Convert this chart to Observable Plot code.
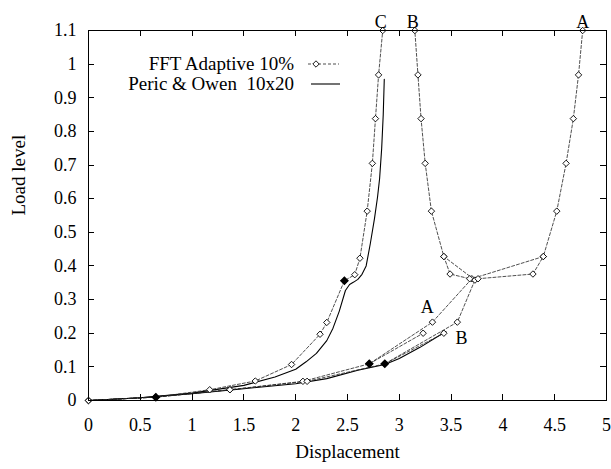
<!DOCTYPE html>
<html>
<head>
<meta charset="utf-8">
<script src="https://cdn.jsdelivr.net/npm/d3@7"></script>
<script src="https://cdn.jsdelivr.net/npm/@observablehq/plot@0.6"></script>
<style>
  html, body { margin: 0; padding: 0; background: #fff; }
  #chart { width: 611px; height: 469px; }
</style>
</head>
<body>
<div id="chart"></div>
<script>
// ---- Tick values ----
const xTickValues = [0, 0.5, 1, 1.5, 2, 2.5, 3, 3.5, 4, 4.5, 5];
const xTickLabels = ["0", "0.5", "1", "1.5", "2", "2.5", "3", "3.5", "4", "4.5", "5"];
const yTickValues = [0, 0.1, 0.2, 0.3, 0.4, 0.5, 0.6, 0.7, 0.8, 0.9, 1, 1.1];
const yTickLabels = ["0", "0.1", "0.2", "0.3", "0.4", "0.5", "0.6", "0.7", "0.8", "0.9", "1", "1.1"];

// ---- FFT Adaptive 10% : branch C ----
const fftCX = [0, 0.65, 1.17, 1.61, 1.96, 2.235, 2.30, 2.47, 2.57, 2.62, 2.69, 2.74, 2.77, 2.80, 2.84];
const fftCY = [0, 0.01, 0.032, 0.058, 0.107, 0.197, 0.232, 0.356, 0.374, 0.423, 0.563, 0.705, 0.838, 0.968, 1.1];
// ---- branch A ----
const fftAX = [0, 0.65, 1.365, 2.07, 2.71, 3.32, 3.70, 4.39, 4.52, 4.61, 4.68, 4.73, 4.77];
const fftAY = [0, 0.01, 0.032, 0.057, 0.109, 0.233, 0.362, 0.428, 0.563, 0.705, 0.838, 0.968, 1.1];
// ---- branch B ----
const fftBX = [0, 0.65, 1.365, 2.11, 2.86, 3.56, 3.73, 3.43, 3.31, 3.25, 3.21, 3.18, 3.15];
const fftBY = [0, 0.01, 0.032, 0.057, 0.109, 0.233, 0.358, 0.428, 0.563, 0.705, 0.838, 0.968, 1.1];
// ---- short side branches ----
const fftA2X = [2.71, 3.23];
const fftA2Y = [0.109, 0.2];
const fftB2X = [2.86, 3.43];
const fftB2Y = [0.109, 0.2];
const fftLinkBX = [3.43, 3.49, 3.68];
const fftLinkBY = [0.428, 0.376, 0.362];
const fftLinkAX = [3.76, 4.29, 4.39];
const fftLinkAY = [0.362, 0.376, 0.428];
// coincident (overlapping, drawn solid) markers
const fftDenseX = [0.65, 2.47, 2.71, 2.86];
const fftDenseY = [0.01, 0.356, 0.109, 0.109];

// ---- Peric & Owen 10x20 ----
const po1X = [0, 0.5, 1.0, 1.5, 1.8, 2.0, 2.1, 2.2, 2.3, 2.36, 2.42, 2.48, 2.52, 2.56, 2.6, 2.64, 2.68, 2.72, 2.76, 2.79, 2.81, 2.83, 2.845, 2.855];
const po1Y = [0, 0.008, 0.022, 0.045, 0.07, 0.093, 0.115, 0.14, 0.178, 0.215, 0.265, 0.327, 0.345, 0.352, 0.36, 0.375, 0.4, 0.466, 0.54, 0.605, 0.66, 0.75, 0.85, 0.955];
const po2X = [0, 0.5, 1.0, 1.5, 2.0, 2.3, 2.6, 2.86, 3.0, 3.2, 3.45];
const po2Y = [0, 0.008, 0.02, 0.035, 0.05, 0.065, 0.09, 0.107, 0.125, 0.158, 0.205];

// ---- branch labels ----
const topLabels = ["C", "B", "A"];
const topLabelX = [2.82, 3.13, 4.77];
const innerLabels = ["A", "B"];
const innerLabelX = [3.27, 3.60];
const innerLabelY = [0.278, 0.185];

const legendNames = ["FFT Adaptive 10%", "Peric & Owen  10x20"];

// ---- build tables ----
const rows = (xs, ys, id) => xs.map((x, i) => ({x, y: ys[i], id}));
const fftRows = [
  ...rows(fftCX, fftCY, "C"),
  ...rows(fftAX, fftAY, "A"),
  ...rows(fftBX, fftBY, "B"),
  ...rows(fftA2X, fftA2Y, "A2"),
  ...rows(fftB2X, fftB2Y, "B2"),
  ...rows(fftLinkBX, fftLinkBY, "LB"),
  ...rows(fftLinkAX, fftLinkAY, "LA")
];
const denseRows = rows(fftDenseX, fftDenseY, "D");
const poRows = [...rows(po1X, po1Y, "P1"), ...rows(po2X, po2Y, "P2")];
const topRows = topLabels.map((t, i) => ({t, x: topLabelX[i]}));
const innerRows = innerLabels.map((t, i) => ({t, x: innerLabelX[i], y: innerLabelY[i]}));

const FONT = '"Liberation Serif", "Times New Roman", serif';
const TICK = 6;

// inward ticks on all four sides, placed with the plot's scales
function inwardTicks(index, scales, values, dims) {
  const {x, y} = scales;
  const L = dims.marginLeft, R = dims.width - dims.marginRight;
  const T = dims.marginTop, B = dims.height - dims.marginBottom;
  const g = d3.create("svg:g").attr("stroke", "#000").attr("stroke-width", 1).attr("fill", "none");
  for (const v of xTickValues) {
    const px = Math.round(x(v)) + 0.5;
    g.append("line").attr("x1", px).attr("x2", px).attr("y1", B).attr("y2", B - TICK);
    g.append("line").attr("x1", px).attr("x2", px).attr("y1", T).attr("y2", T + TICK);
  }
  for (const v of yTickValues) {
    const py = Math.round(y(v)) + 0.5;
    g.append("line").attr("y1", py).attr("y2", py).attr("x1", L).attr("x2", L + TICK);
    g.append("line").attr("y1", py).attr("y2", py).attr("x1", R).attr("x2", R - TICK);
  }
  return g.node();
}

// key drawn inside the frame (top-left area)
function legend(index, scales, values, dims) {
  const g = d3.create("svg:g").attr("font-family", FONT).attr("font-size", 19);
  const textRight = 294, y0 = 64, y1 = 84;
  g.append("text").attr("x", textRight).attr("y", y0).attr("dy", "0.32em")
    .attr("text-anchor", "end").attr("fill", "#000").text(legendNames[0]);
  g.append("text").attr("x", textRight).attr("y", y1).attr("dy", "0.32em")
    .attr("text-anchor", "end").attr("fill", "#000").text(legendNames[1]);
  g.append("line").attr("x1", 308).attr("x2", 339).attr("y1", y0).attr("y2", y0)
    .attr("stroke", "#222").attr("stroke-width", 0.8).attr("stroke-dasharray", "3,2");
  g.append("path").attr("d", d3.symbol(d3.symbolDiamond2, 26)())
    .attr("transform", `translate(316,${y0})`)
    .attr("fill", "#fff").attr("stroke", "#000").attr("stroke-width", 0.9);
  g.append("line").attr("x1", 311).attr("x2", 340).attr("y1", y1).attr("y2", y1)
    .attr("stroke", "#000").attr("stroke-width", 1.1);
  return g.node();
}

const chart = Plot.plot({
  width: 611,
  height: 469,
  marginLeft: 88,
  marginRight: 5,
  marginTop: 30,
  marginBottom: 69,
  style: {fontFamily: FONT, fontSize: "18px", background: "#fff", color: "#000", overflow: "visible"},
  x: {domain: [0, 5]},
  y: {domain: [0, 1.1]},
  marks: [
    Plot.axisX({anchor: "bottom", ticks: xTickValues, tickSize: 0, tickPadding: 18,
      tickFormat: (d) => xTickLabels[xTickValues.indexOf(d)], label: null, fontSize: 18}),
    Plot.axisY({anchor: "left", ticks: yTickValues, tickSize: 0, tickPadding: 12,
      tickFormat: (d) => yTickLabels[yTickValues.indexOf(d)], label: null, fontSize: 18}),
    Plot.line(poRows, {x: "x", y: "y", z: "id", stroke: "#000", strokeWidth: 1.1}),
    Plot.line(fftRows, {x: "x", y: "y", z: "id", stroke: "#222", strokeWidth: 0.8, strokeDasharray: "3,2"}),
    Plot.dot(fftRows, {x: "x", y: "y", symbol: "diamond2", r: 2.9, fill: "#fff", stroke: "#000", strokeWidth: 0.9}),
    Plot.dot(denseRows, {x: "x", y: "y", symbol: "diamond2", r: 3.1, fill: "#000", stroke: "#000"}),
    Plot.text(topRows, {x: "x", text: "t", frameAnchor: "top", dy: -15, fontSize: 18, fill: "#000"}),
    Plot.text(innerRows, {x: "x", y: "y", text: "t", fontSize: 18, fill: "#000"}),
    Plot.text(["Displacement"], {text: (d) => d, frameAnchor: "bottom", dy: 57, fontSize: 19, fill: "#000"}),
    Plot.text(["Load level"], {text: (d) => d, frameAnchor: "left", dx: -70, rotate: -90, fontSize: 19, fill: "#000"}),
    Plot.frame({stroke: "#000", strokeWidth: 1}),
    inwardTicks,
    legend
  ]
});
document.getElementById("chart").appendChild(chart);
</script>
</body>
</html>
